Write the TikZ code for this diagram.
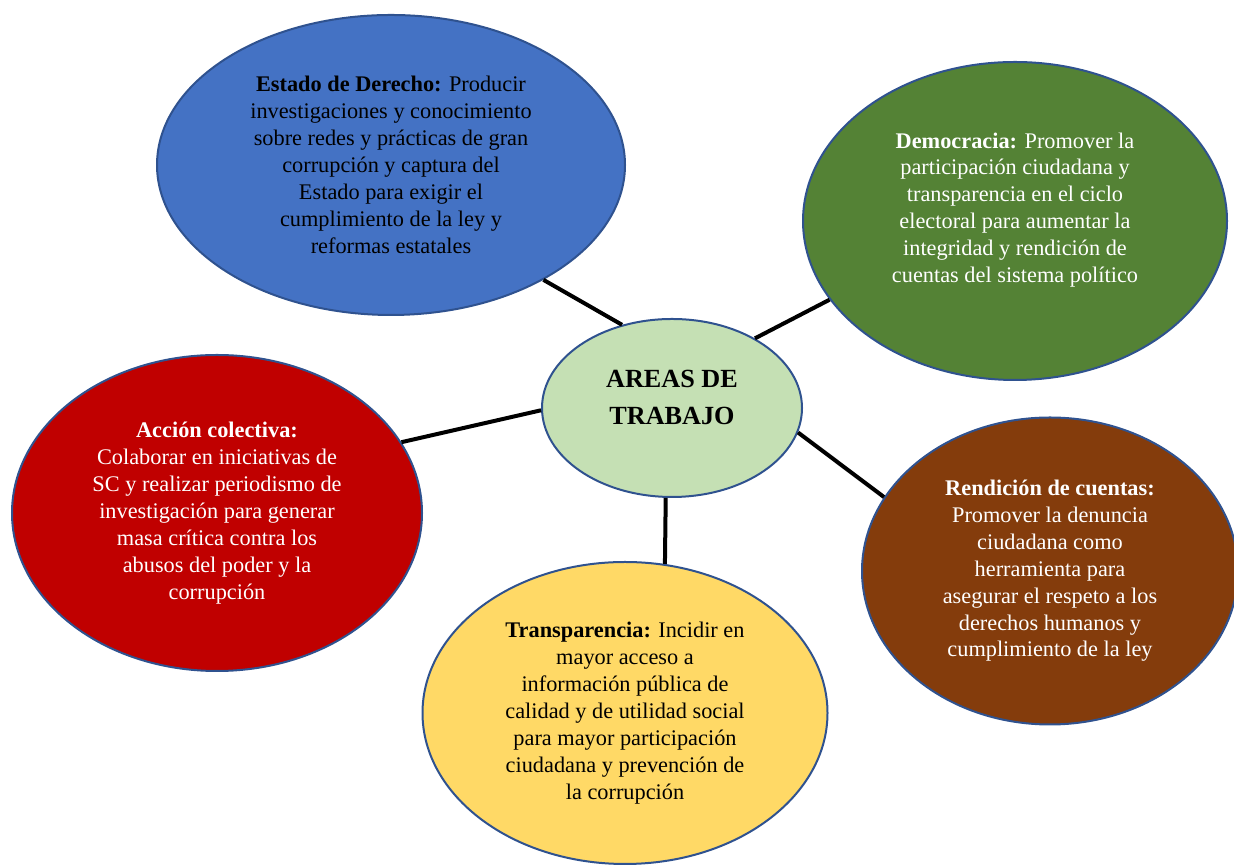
\documentclass[tikz,border=0pt]{standalone}
\usepackage{amsfonts,amssymb,amsmath}
\usepackage{xcolor}
\usepackage{fontspec}
\setmainfont{Liberation Serif}
\usetikzlibrary{calc,positioning,shapes.geometric}

\definecolor{azulest}{HTML}{4472C4}
\definecolor{verdedem}{HTML}{548235}
\definecolor{verdeclaro}{HTML}{C5E0B4}
\definecolor{rojoacc}{HTML}{C00000}
\definecolor{cafeacc}{HTML}{843C0C}
\definecolor{amarillotr}{HTML}{FFD966}
\definecolor{bordeazul}{HTML}{2F528F}

\tikzset{
  area/.style={ellipse, draw=bordeazul, line width=0.04cm, inner sep=0pt, align=center},
  enlace/.style={line width=0.08cm, black}
}

\begin{document}
\begin{tikzpicture}[font=\fontsize{12.7}{15.3}\selectfont]
                        \clip (0,0) rectangle (24.680000,17.300000);

                        % Marking ellipse Estado de Derecho
                        \node [area, fill=azulest, minimum width=9.360000cm, minimum height=6.000000cm] (estado) at (7.820000,14.000000)
                          { \textbf{Estado de Derecho:} Producir\\ investigaciones y conocimiento\\ sobre redes y prácticas de gran\\ corrupción y captura del\\ Estado para exigir el\\ cumplimiento de la ley y\\ reformas estatales };

                        % Marking ellipse Democracia
                        \node [area, fill=verdedem, text=white, minimum width=8.480000cm, minimum height=6.360000cm] (democracia) at (20.300000,12.880000)
                          { \textbf{Democracia:} Promover la\\ participación ciudadana y\\ transparencia en el ciclo\\ electoral para aumentar la\\ integridad y rendición de\\ cuentas del sistema político\\ \mbox{} };

                        % Marking ellipse AREAS DE TRABAJO
                        \node [area, fill=verdeclaro, minimum width=5.200000cm, minimum height=3.560000cm,
                          font=\fontsize{14.9}{21}\selectfont\bfseries] (areas) at (13.440000,9.140000)
                          { AREAS DE\\ TRABAJO\\[-0.3cm] \mbox{} };

                        % Marking ellipse Accion colectiva
                        \node [area, fill=rojoacc, text=white, minimum width=8.200000cm, minimum height=6.320000cm] (accion) at (4.340000,7.040000)
                          { \textbf{Acción colectiva:}\\ Colaborar en iniciativas de\\ SC y realizar periodismo de\\ investigación para generar\\ masa crítica contra los\\ abusos del poder y la\\ corrupción };

                        % Marking ellipse Rendicion de cuentas
                        \node [area, fill=cafeacc, text=white, minimum width=7.520000cm, minimum height=6.140000cm] (rendicion) at (21.000000,5.880000)
                          { \textbf{Rendición de cuentas:}\\ Promover la denuncia\\ ciudadana como\\ herramienta para\\ asegurar el respeto a los\\ derechos humanos y\\ cumplimiento de la ley };

                        % Marking ellipse Transparencia
                        \node [area, fill=amarillotr, minimum width=8.100000cm, minimum height=6.040000cm] (transp) at (12.500000,3.040000)
                          { \textbf{Transparencia:} Incidir en\\ mayor acceso a\\ información pública de\\ calidad y de utilidad social\\ para mayor participación\\ ciudadana y prevención de\\ la corrupción };

                        % Drawing line estado areas
                        \draw [enlace] (estado.-37) -- (areas.121);%
                        % Drawing line areas democracia
                        \draw [enlace] (areas.40) -- (democracia.203);%
                        % Drawing line accion areas
                        \draw [enlace] (accion.21) -- (areas.181);%
                        % Drawing line areas rendicion
                        \draw [enlace] (areas.-11) -- (rendicion.156);%
                        % Drawing line areas transp
                        \draw [enlace] (areas.-94) -- (transp.75);%
\end{tikzpicture}
\end{document}
